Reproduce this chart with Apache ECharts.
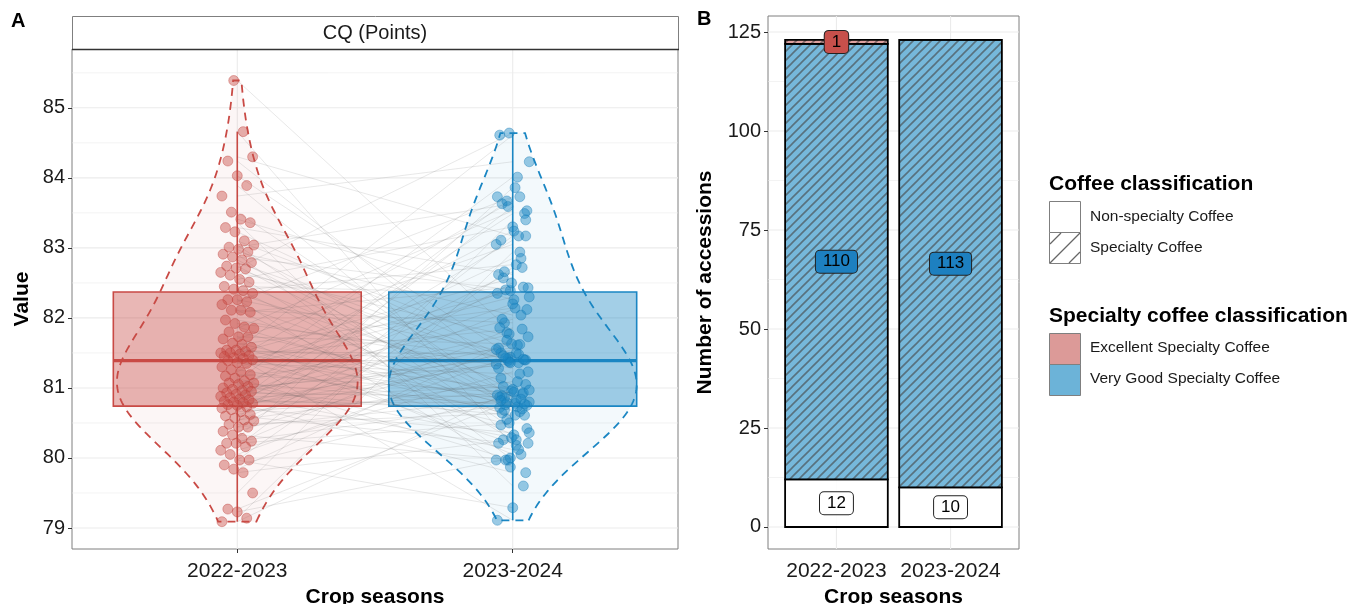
<!DOCTYPE html>
<html>
<head>
<meta charset="utf-8">
<script src="https://cdn.jsdelivr.net/npm/echarts@6/dist/echarts.min.js"></script>
<style>
  html, body { margin: 0; padding: 0; background: #ffffff; }
  #chart { width: 1355px; height: 604px; }
</style>
</head>
<body>
<div id="chart"></div>
<script>
// ---- data ---------------------------------------------------------------
const seasons = ['2022-2023', '2023-2024'];

// CQ score of each accession (same accession order in both seasons)
const cqSeason1 = [
  85.39, 84.66, 84.30, 84.24, 84.03, 83.89, 83.74, 83.51, 83.41, 83.36,
  83.29, 83.23, 83.10, 83.04, 83.01, 82.98, 82.94, 82.91, 82.87, 82.83,
  82.79, 82.74, 82.71, 82.70, 82.65, 82.61, 82.55, 82.51, 82.45, 82.41,
  82.39, 82.35, 82.26, 82.26, 82.23, 82.19, 82.11, 82.11, 82.08, 81.97,
  81.92, 81.87, 81.85, 81.80, 81.73, 81.73, 81.70, 81.64, 81.62, 81.58,
  81.54, 81.54, 81.52, 81.50, 81.50, 81.48, 81.46, 81.45, 81.43, 81.42,
  81.40, 81.39, 81.36, 81.35, 81.30, 81.26, 81.23, 81.19, 81.17, 81.14,
  81.10, 81.07, 81.07, 81.05, 81.02, 81.00, 80.98, 80.96, 80.95, 80.93,
  80.91, 80.90, 80.88, 80.86, 80.84, 80.83, 80.81, 80.80, 80.79, 80.78,
  80.76, 80.75, 80.73, 80.71, 80.69, 80.66, 80.62, 80.60, 80.57, 80.54,
  80.53, 80.48, 80.44, 80.44, 80.38, 80.33, 80.28, 80.24, 80.21, 80.21,
  80.16, 80.11, 80.05, 79.97, 79.97, 79.90, 79.84, 79.79, 79.50, 79.27,
  79.23, 79.14, 79.09
];
const cqSeason2 = [
  81.79, 80.18, 83.17, 81.14, 81.44, 80.66, 84.23, 80.86, 82.26, 79.60,
  82.62, 81.39, 81.61, 80.42, 83.63, 80.96, 82.04, 79.97, 82.40, 80.78,
  81.40, 80.72, 84.64, 81.36, 81.73, 80.26, 83.30, 80.91, 82.35, 80.55,
  82.76, 81.05, 81.50, 79.87, 83.73, 80.80, 81.93, 80.33, 82.44, 81.28,
  81.42, 80.73, 83.53, 80.89, 81.63, 80.05, 83.05, 80.76, 82.14, 80.61,
  84.61, 81.37, 81.48, 80.21, 82.57, 80.98, 81.84, 79.11, 83.67, 80.83,
  81.40, 80.47, 82.39, 81.20, 82.30, 80.68, 83.24, 80.93, 81.57, 79.97,
  84.01, 80.75, 81.98, 80.29, 82.85, 81.34, 81.43, 80.61, 83.49, 80.87,
  81.77, 80.12, 82.43, 81.02, 82.20, 80.70, 83.73, 80.79, 81.50, 79.79,
  83.11, 81.36, 81.62, 80.36, 82.66, 80.94, 81.41, 80.21, 83.59, 81.09,
  82.12, 80.64, 82.50, 80.84, 81.55, 79.97, 83.86, 80.77, 81.86, 80.50,
  83.17, 81.23, 81.46, 79.29, 82.72, 80.90, 81.68, 80.26, 83.40, 80.82,
  80.00, 82.94, 80.97
];

// number of accessions per class
const nonSpecialty = [12, 10];
const veryGoodSpecialty = [110, 113];
const excellentSpecialty = [1, 0];

const cqTicks = [79, 80, 81, 82, 83, 84, 85];
const cqMinorTicks = [79.5, 80.5, 81.5, 82.5, 83.5, 84.5, 85.5];
const countTicks = [0, 25, 50, 75, 100, 125];
const countMinorTicks = [12.5, 37.5, 62.5, 87.5, 112.5];

// ---- styling ------------------------------------------------------------
const FONT = '"Liberation Sans", Arial, Helvetica, sans-serif';
const RED = '#c94a45';
const BLUE = '#1a86c3';
const X_MIN = 0.4, X_MAX = 2.6;
const A_MIN = 78.7, A_MAX = 85.84;
const B_MIN = -5.56, B_MAX = 129.04;
const GRID_A = { left: 72, top: 49, width: 606, height: 500 };
const GRID_B = { left: 768, top: 16, width: 251, height: 533 };

// ---- statistics (boxplot + violin) --------------------------------------
function quantile(sorted, p) {
  const h = (sorted.length - 1) * p;
  const lo = Math.floor(h);
  const hi = Math.min(lo + 1, sorted.length - 1);
  return sorted[lo] + (h - lo) * (sorted[hi] - sorted[lo]);
}
function boxStats(vals) {
  const s = [...vals].sort((a, b) => a - b);
  const q1 = quantile(s, 0.25), med = quantile(s, 0.5), q3 = quantile(s, 0.75);
  const iqr = q3 - q1;
  const lo = s.find(v => v >= q1 - 1.5 * iqr);
  const hi = [...s].reverse().find(v => v <= q3 + 1.5 * iqr);
  return { s, q1, med, q3, lo, hi, iqr };
}
const BW_ADJUST = 1.45;
function bandwidth(st) {
  const n = st.s.length;
  const mean = st.s.reduce((a, b) => a + b, 0) / n;
  const sd = Math.sqrt(st.s.reduce((a, b) => a + (b - mean) * (b - mean), 0) / (n - 1));
  return BW_ADJUST * 0.9 * Math.min(sd, st.iqr / 1.34) * Math.pow(n, -0.2);
}
function density(st, m) {
  const bw = bandwidth(st);
  const lo = st.s[0], hi = st.s[st.s.length - 1];
  const out = [];
  for (let k = 0; k < m; k++) {
    const y = lo + (hi - lo) * k / (m - 1);
    let d = 0;
    for (const v of st.s) { const z = (y - v) / bw; d += Math.exp(-0.5 * z * z); }
    out.push([y, d / (st.s.length * bw * Math.sqrt(2 * Math.PI))]);
  }
  return out;
}
const stats = [boxStats(cqSeason1), boxStats(cqSeason2)];
const dens = stats.map(st => density(st, 256));
const dMax = Math.max(...dens.map(d => Math.max(...d.map(p => p[1]))));
const violinOutline = dens.map((d, k) => {
  const x = k + 1;
  const right = d.map(p => [x + 0.45 * p[1] / dMax, p[0]]);
  const left = d.map(p => [x - 0.45 * p[1] / dMax, p[0]]).reverse();
  return right.concat(left);
});

// small horizontal spread so that overlapping points stay visible
function spread(i) { return (((i * 37 + 11) % 29) / 28 - 0.5) * 0.12; }

// ---- series builders ----------------------------------------------------
function gridLineSeries(xi, yi, yMin, yMax, hMajor, hMinor, vMajor) {
  const data = [];
  hMajor.forEach(v => data.push([0, v, 1]));
  hMinor.forEach(v => data.push([0, v, 0]));
  vMajor.forEach(v => data.push([1, v, 1]));
  return {
    type: 'custom', xAxisIndex: xi, yAxisIndex: yi, z: 1, silent: true,
    encode: { x: -1, y: -1 },
    data,
    renderItem: (p, api) => {
      const o = api.value(0), v = api.value(1), major = api.value(2);
      const a = o === 0 ? api.coord([X_MIN, v]) : api.coord([v, yMin]);
      const b = o === 0 ? api.coord([X_MAX, v]) : api.coord([v, yMax]);
      return {
        type: 'line',
        shape: { x1: a[0], y1: a[1], x2: b[0], y2: b[1] },
        style: { stroke: '#ebebeb', lineWidth: major ? 1.1 : 0.6 }
      };
    }
  };
}

function violinSeries(k, color, fill) {
  return {
    type: 'custom', xAxisIndex: 0, yAxisIndex: 0, z: 2, silent: true,
    data: [[k + 1, stats[k].med]],
    renderItem: (p, api) => ({
      type: 'polygon',
      shape: { points: violinOutline[k].map(q => api.coord(q)) },
      style: { fill, stroke: color, lineWidth: 1.8, lineDash: [8, 6] }
    })
  };
}

function boxSeries(k, color, fill) {
  return {
    type: 'custom', xAxisIndex: 0, yAxisIndex: 0, z: 3, silent: true,
    data: [[k + 1, stats[k].med]],
    renderItem: (p, api) => {
      const s = stats[k], x = k + 1, hw = 0.45;
      const tl = api.coord([x - hw, s.q3]), br = api.coord([x + hw, s.q1]);
      const m1 = api.coord([x - hw, s.med]), m2 = api.coord([x + hw, s.med]);
      const t1 = api.coord([x, s.q3]), t2 = api.coord([x, s.hi]);
      const b1 = api.coord([x, s.q1]), b2 = api.coord([x, s.lo]);
      return {
        type: 'group',
        children: [
          { type: 'line', shape: { x1: t1[0], y1: t1[1], x2: t2[0], y2: t2[1] }, style: { stroke: color, lineWidth: 1.6 } },
          { type: 'line', shape: { x1: b1[0], y1: b1[1], x2: b2[0], y2: b2[1] }, style: { stroke: color, lineWidth: 1.6 } },
          { type: 'rect', shape: { x: tl[0], y: tl[1], width: br[0] - tl[0], height: br[1] - tl[1] },
            style: { fill, stroke: color, lineWidth: 1.6 } },
          { type: 'line', shape: { x1: m1[0], y1: m1[1], x2: m2[0], y2: m2[1] }, style: { stroke: color, lineWidth: 3.2 } }
        ]
      };
    }
  };
}

function pointSeries(k, vals, fill, stroke) {
  return {
    type: 'scatter', xAxisIndex: 0, yAxisIndex: 0, z: 5, silent: true,
    symbolSize: 10,
    itemStyle: { color: fill, borderColor: stroke, borderWidth: 0.8 },
    data: vals.map((v, i) => [k + 1 + spread(i + k * 7), v])
  };
}

// diagonal hatching tile
function hatchFill(bg) {
  const s = 9;
  const c = document.createElement('canvas');
  c.width = s; c.height = s;
  const g = c.getContext('2d');
  g.fillStyle = bg;
  g.fillRect(0, 0, s, s);
  g.strokeStyle = 'rgba(70,70,70,0.62)';
  g.lineWidth = 1.6;
  g.beginPath();
  g.moveTo(0, s); g.lineTo(s, 0);
  g.moveTo(-2, 2); g.lineTo(2, -2);
  g.moveTo(s - 2, s + 2); g.lineTo(s + 2, s - 2);
  g.stroke();
  return { image: c, repeat: 'repeat' };
}

// stacked segments: each class starts where the previous one ends
const stackOrder = [nonSpecialty, veryGoodSpecialty, excellentSpecialty];
function stackBase(level, i) {
  let b = 0;
  for (let l = 0; l < level; l++) b += stackOrder[l][i];
  return b;
}
function barSeries(level, fill, labelBg) {
  const vals = stackOrder[level];
  return {
    type: 'custom', xAxisIndex: 1, yAxisIndex: 1, z: 3 + level, silent: true,
    encode: { x: 0, y: [1, 2] },
    data: vals.map((v, i) => [i + 1, stackBase(level, i), stackBase(level, i) + v, v]),
    renderItem: (p, api) => {
      const x = api.value(0), y0 = api.value(1), y1 = api.value(2), v = api.value(3);
      const a = api.coord([x - 0.45, y1]), b = api.coord([x + 0.45, y0]);
      const children = [{
        type: 'rect',
        shape: { x: a[0], y: a[1], width: b[0] - a[0], height: b[1] - a[1] },
        style: { fill, stroke: '#000', lineWidth: 1.8 }
      }];
      if (v > 0) {
        children.push({
          type: 'text', z2: 10,
          x: (a[0] + b[0]) / 2, y: (a[1] + b[1]) / 2,
          style: {
            text: String(v), align: 'center', verticalAlign: 'middle',
            font: '17px ' + FONT, fill: '#000',
            backgroundColor: labelBg, borderColor: '#222', borderWidth: 1,
            borderRadius: 4, padding: [3, 7, 2, 7]
          }
        });
      }
      return { type: 'group', children };
    }
  };
}

// ---- axes ---------------------------------------------------------------
const tickStyle = { length: 4, lineStyle: { color: '#333', width: 1 } };
const labelStyle = { fontSize: 21, color: '#1a1a1a', fontFamily: FONT };
const titleStyle = { fontSize: 21, fontWeight: 'bold', color: '#000', fontFamily: FONT };
function xAxisFor(gi) {
  return {
    gridIndex: gi, type: 'value', min: X_MIN, max: X_MAX,
    axisLine: { show: false }, splitLine: { show: false },
    axisTick: Object.assign({ customValues: [1, 2] }, tickStyle),
    axisLabel: Object.assign({ customValues: [1, 2], margin: 12,
      formatter: v => seasons[Math.round(v) - 1] || '' }, labelStyle),
    name: 'Crop seasons', nameLocation: 'middle', nameGap: 36, nameTextStyle: titleStyle
  };
}
function yAxisFor(gi, min, max, ticks, name, gap) {
  return {
    gridIndex: gi, type: 'value', min, max,
    axisLine: { show: false }, splitLine: { show: false },
    axisTick: Object.assign({ customValues: ticks }, tickStyle),
    axisLabel: Object.assign({ customValues: ticks, margin: 7 }, labelStyle, { fontSize: 20 }),
    name, nameLocation: 'middle', nameRotate: 90, nameGap: gap, nameTextStyle: titleStyle
  };
}

// ---- legend (drawn as graphics) -----------------------------------------
const LX = 1049;
const legendGraphics = [
  { type: 'text', left: LX, top: 174, style: { text: 'Coffee classification', font: 'bold 21px ' + FONT, fill: '#000' } },
  { type: 'rect', shape: { x: LX + 0.5, y: 201.5, width: 31, height: 31 }, style: { fill: '#fff', stroke: '#7f7f7f', lineWidth: 1 } },
  { type: 'rect', shape: { x: LX + 0.5, y: 232.5, width: 31, height: 31 }, style: { fill: '#fff', stroke: '#7f7f7f', lineWidth: 1 } },
  { type: 'line', shape: { x1: LX + 1, y1: 244, x2: LX + 12, y2: 233 }, style: { stroke: '#666', lineWidth: 1.2 } },
  { type: 'line', shape: { x1: LX + 1, y1: 263, x2: LX + 31, y2: 233 }, style: { stroke: '#666', lineWidth: 1.2 } },
  { type: 'line', shape: { x1: LX + 20, y1: 263, x2: LX + 31, y2: 252 }, style: { stroke: '#666', lineWidth: 1.2 } },
  { type: 'text', left: LX + 41, top: 209, style: { text: 'Non-specialty Coffee', font: '15.5px ' + FONT, fill: '#1a1a1a' } },
  { type: 'text', left: LX + 41, top: 240, style: { text: 'Specialty Coffee', font: '15.5px ' + FONT, fill: '#1a1a1a' } },

  { type: 'text', left: LX, top: 306, style: { text: 'Specialty coffee classification', font: 'bold 21px ' + FONT, fill: '#000' } },
  { type: 'rect', shape: { x: LX + 0.5, y: 333.5, width: 31, height: 31 }, style: { fill: '#dc9a98', stroke: '#7f7f7f', lineWidth: 1 } },
  { type: 'rect', shape: { x: LX + 0.5, y: 364.5, width: 31, height: 31 }, style: { fill: '#6cb3d8', stroke: '#7f7f7f', lineWidth: 1 } },
  { type: 'text', left: LX + 41, top: 340, style: { text: 'Excellent Specialty Coffee', font: '15.5px ' + FONT, fill: '#1a1a1a' } },
  { type: 'text', left: LX + 41, top: 371, style: { text: 'Very Good Specialty Coffee', font: '15.5px ' + FONT, fill: '#1a1a1a' } }
];

const stripGraphics = [
  { type: 'rect', z: 10, shape: { x: GRID_A.left + 0.5, y: 16.5, width: GRID_A.width, height: 33 },
    style: { fill: '#fff', stroke: '#7f7f7f', lineWidth: 1 } },
  { type: 'line', z: 11, shape: { x1: GRID_A.left, y1: 49.5, x2: GRID_A.left + GRID_A.width + 1, y2: 49.5 },
    style: { stroke: '#333', lineWidth: 1.6 } },
  { type: 'text', z: 11, x: GRID_A.left + GRID_A.width / 2, y: 33,
    style: { text: 'CQ (Points)', font: '20px ' + FONT, fill: '#1a1a1a', align: 'center', verticalAlign: 'middle' } },
  { type: 'text', left: 11, top: 11, style: { text: 'A', font: 'bold 20px ' + FONT, fill: '#000' } },
  { type: 'text', left: 697, top: 9, style: { text: 'B', font: 'bold 20px ' + FONT, fill: '#000' } }
];

// ---- chart --------------------------------------------------------------
const gridBase = { show: true, borderColor: '#7f7f7f', borderWidth: 1, backgroundColor: 'transparent',
  containLabel: false, outerBoundsMode: 'none' };
const chart = echarts.init(document.getElementById('chart'), null, { renderer: 'canvas' });
chart.setOption({
  animation: false,
  backgroundColor: '#ffffff',
  textStyle: { fontFamily: FONT },
  grid: [
    Object.assign({}, gridBase, GRID_A),
    Object.assign({}, gridBase, GRID_B)
  ],
  xAxis: [xAxisFor(0), xAxisFor(1)],
  yAxis: [
    yAxisFor(0, A_MIN, A_MAX, cqTicks, 'Value', 39),
    yAxisFor(1, B_MIN, B_MAX, countTicks, 'Number of accessions', 52)
  ],
  series: [
    gridLineSeries(0, 0, A_MIN, A_MAX, cqTicks, cqMinorTicks, [1, 2]),
    gridLineSeries(1, 1, B_MIN, B_MAX, countTicks, countMinorTicks, [1, 2]),
    violinSeries(0, RED, 'rgba(201,74,69,0.05)'),
    violinSeries(1, BLUE, 'rgba(26,134,195,0.05)'),
    boxSeries(0, RED, 'rgba(201,74,69,0.4)'),
    boxSeries(1, BLUE, 'rgba(26,134,195,0.4)'),
    {
      type: 'lines', coordinateSystem: 'cartesian2d', xAxisIndex: 0, yAxisIndex: 0, z: 4, silent: true,
      lineStyle: { color: 'rgba(80,80,80,0.45)', width: 0.6 },
      data: cqSeason1.map((v, i) => ({ coords: [[1, v], [2, cqSeason2[i]]] }))
    },
    pointSeries(0, cqSeason1, 'rgba(201,74,69,0.55)', 'rgba(190,60,55,0.6)'),
    pointSeries(1, cqSeason2, 'rgba(26,134,195,0.55)', 'rgba(20,120,180,0.6)'),
    barSeries(0, 'rgba(255,255,255,0.9)', '#ffffff'),
    barSeries(1, hatchFill('rgba(108,179,216,0.93)'), '#1d80c0'),
    barSeries(2, hatchFill('rgba(220,154,152,0.93)'), '#c7504b')
  ],
  graphic: stripGraphics.concat(legendGraphics)
});
</script>
</body>
</html>
